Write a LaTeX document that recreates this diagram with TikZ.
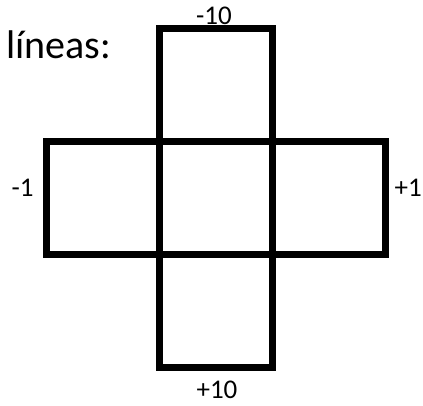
\documentclass[tikz,border=0pt]{standalone}
\usepackage{fontspec}
\setmainfont{Carlito}
\usetikzlibrary{positioning}
\tikzset{
  every picture/.style={x=1pt, y=-1pt},
  cell/.style={draw=black, line width=7pt, minimum size=113pt, inner sep=0pt, outer sep=0pt},
  num/.style={font=\fontsize{27}{30}\selectfont, inner sep=0pt, anchor=base},
  title/.style={font=\fontsize{40}{44}\selectfont, inner sep=0pt, anchor=base west},
}

\begin{document}
\begin{tikzpicture}
  \useasboundingbox (0,0) rectangle (423,405);
  % the cross of cells
  \node[cell] (mid) at (216.25,198) {};
  \node[cell, above=0pt of mid] (up) {};
  \node[cell, below=0pt of mid] (down) {};
  \node[cell, left=0pt of mid] (west) {};
  \node[cell, right=0pt of mid] (east) {};
  % labels
  \node[title] (lineas) at (6,58) {líneas:};
  \node[num] (minten) at (214,24) {-10};
  \node[num] (plusten) at (217,398) {+10};
  \node[num] (minone) at (22.5,196) {-1};
  \node[num, anchor=base east] (plusone) at (422,196) {+1};
\end{tikzpicture}
\end{document}
